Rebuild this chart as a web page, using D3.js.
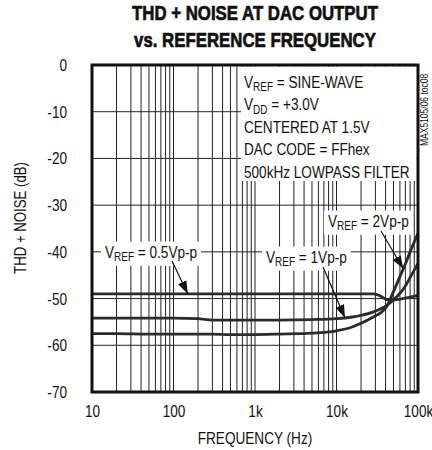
<!DOCTYPE html>
<html><head><meta charset="utf-8">
<script src="https://cdn.jsdelivr.net/npm/d3@7"></script>
<style>
html,body{margin:0;padding:0;background:#fff;}
svg{display:block;}
text{font-family:"Liberation Sans",Arial,sans-serif;fill:#111;}
</style></head><body>
<svg id="c" width="432" height="450"></svg>
<script>
const frequencies = [10, 20, 50, 100, 200, 300, 500, 1000, 2000, 5000, 10000, 15000, 20000, 28000, 35000, 41000, 50000, 60000, 70000, 80000, 90000, 100000];
const thdn2Vpp  = [-57.5, -57.5, -57.6, -57.6, -57.6, -57.6, -57.7, -57.7, -57.6, -57.4, -56.9, -56.2, -55.3, -54.0, -53.0, -51.8, -48.5, -45.3, -42.6, -40.0, -37.9, -36.0];
const thdn1Vpp  = [-54.2, -54.2, -54.2, -54.2, -54.3, -54.6, -54.6, -54.6, -54.6, -54.5, -54.3, -54.0, -53.6, -52.9, -52.2, -51.5, -50.3, -48.9, -47.3, -45.5, -43.9, -42.5];
const thdn05Vpp = [-49.0, -49.0, -49.0, -49.0, -49.0, -49.0, -49.0, -49.0, -49.0, -49.0, -49.0, -49.0, -49.0, -49.0, -49.5, -50.2, -50.3, -50.1, -49.9, -49.7, -49.5, -49.3];
const xTickValues = [10, 100, 1000, 10000, 100000];
const xTickLabels = ["10", "100", "1k", "10k", "100k"];
const yTickValues = [0, -10, -20, -30, -40, -50, -60, -70];
const yTickLabels = ["0", "-10", "-20", "-30", "-40", "-50", "-60", "-70"];
const titleLines = ["THD + NOISE AT DAC OUTPUT", "vs. REFERENCE FREQUENCY"];
const conditions = [["V","REF"," = SINE-WAVE"],["V","DD"," = +3.0V"],["CENTERED AT 1.5V"],["DAC CODE = FFhex"],["500kHz LOWPASS FILTER"]];

const SX = 0.8; // narrow-font emulation
const svg = d3.select("#c");
const L = 92, R = 418, T = 65, B = 392;
const x = d3.scaleLog().domain([10, 100000]).range([L, R]);
const y = d3.scaleLinear().domain([-70, 0]).range([B, T]);

function condense(sel, s){
  sel.each(function(){
    const el = d3.select(this);
    const ax = +el.attr("x") || 0;
    el.attr("transform", `translate(${ax},0) scale(${s},1) translate(${-ax},0)`);
  });
}

// grid
const minor = [];
for (let dec = 10; dec < 100000; dec *= 10) for (let k = 2; k <= 9; k++) minor.push(dec*k);
const gGrid = svg.append("g");
gGrid.selectAll("line.v").data(minor.concat([100,1000,10000])).join("line")
  .attr("x1", d=>x(d)).attr("x2", d=>x(d)).attr("y1", T).attr("y2", B)
  .attr("stroke","#222").attr("stroke-width",1);
gGrid.selectAll("line.h").data(yTickValues.slice(1,-1)).join("line")
  .attr("x1", L).attr("x2", R).attr("y1", d=>y(d)).attr("y2", d=>y(d))
  .attr("stroke","#222").attr("stroke-width",1);

// title
const tt = svg.append("g").selectAll("text").data(titleLines).join("text")
  .attr("x", 255).attr("y", (d,i)=>20 + i*27)
  .attr("text-anchor","middle").attr("font-size",20.5).attr("font-weight","bold")
  .attr("stroke","#111").attr("stroke-width",0.7)
  .text(d=>d);
condense(tt, 0.82);

// axes labels
const xAxis = d3.axisBottom(x).tickValues(xTickValues).tickFormat((d,i)=>xTickLabels[i]).tickSize(0).tickPadding(13);
const gx = svg.append("g").attr("transform",`translate(0,${B})`).call(xAxis);
gx.select(".domain").remove();
gx.selectAll("text").attr("font-size",17).attr("fill","#111").style("font-family",'"Liberation Sans",Arial,sans-serif');
condense(gx.selectAll("text"), SX);
const yAxis = d3.axisLeft(y).tickValues(yTickValues).tickFormat((d,i)=>yTickLabels[i]).tickSize(0).tickPadding(25);
const gy = svg.append("g").attr("transform",`translate(${L},0)`).call(yAxis);
gy.select(".domain").remove();
gy.selectAll("text").attr("font-size",17).attr("fill","#111").style("font-family",'"Liberation Sans",Arial,sans-serif');
condense(gy.selectAll("text"), SX);

condense(svg.append("text").attr("x",255).attr("y",444).attr("text-anchor","middle").attr("font-size",17).text("FREQUENCY (Hz)"), SX);
svg.append("text").attr("transform",`translate(26,218) rotate(-90) scale(${SX},1)`).attr("text-anchor","middle").attr("font-size",16.5).text("THD + NOISE (dB)");
svg.append("text").attr("transform","translate(428,146) rotate(-90) scale(0.85,1)").attr("font-size",10).text("MAX5105/06 toc08");

// conditions box
svg.append("rect").attr("x",241).attr("y",T+1.5).attr("width",R-1.5-241).attr("height",181-(T+1.5)).attr("fill","#fff");
conditions.forEach((parts,i)=>{
  const t = svg.append("text").attr("x",244).attr("y",88 + i*22.5).attr("font-size",17);
  t.append("tspan").text(parts[0]);
  if (parts.length === 3) {
    t.append("tspan").attr("font-size",12.5).attr("dy",3.5).text(parts[1]);
    t.append("tspan").attr("dy",-3.5).text(parts[2]);
  }
  condense(t, SX);
});

// curves
const series = [
  {name:"2Vp-p", v:thdn2Vpp},
  {name:"1Vp-p", v:thdn1Vpp},
  {name:"0.5Vp-p", v:thdn05Vpp}
];
const line = d3.line().x(d=>x(d[0])).y(d=>y(d[1])).curve(d3.curveMonotoneX);
svg.append("g").selectAll("path").data(series).join("path")
  .attr("d", s=>line(frequencies.map((f,i)=>[f, s.v[i]])))
  .attr("fill","none").attr("stroke","#2b2b2b").attr("stroke-width",2.8);

// series labels with arrows
function valAt(arr, f){
  const lf = Math.log10(f);
  for (let i=0;i<frequencies.length-1;i++){
    const a=Math.log10(frequencies[i]), b=Math.log10(frequencies[i+1]);
    if (lf>=a && lf<=b) return arr[i]+(arr[i+1]-arr[i])*(lf-a)/(b-a);
  }
  return arr[arr.length-1];
}
const labels = [
  {sub:"0.5Vp-p", tx:105, ty:258, arr:thdn05Vpp, f:150, ax:172, ay:261},
  {sub:"1Vp-p", tx:266, ty:263, arr:thdn1Vpp, f:12700, ax:323, ay:267},
  {sub:"2Vp-p", tx:328, ty:227, arr:thdn2Vpp, f:66000, ax:381, ay:231}
];
const defs = svg.append("defs");
defs.append("marker").attr("id","ah").attr("viewBox","0 0 10 10").attr("refX",10).attr("refY",5)
  .attr("markerWidth",13).attr("markerHeight",13).attr("markerUnits","userSpaceOnUse").attr("orient","auto")
  .append("path").attr("d","M0,1.5 L10,5 L0,8.5 Z").attr("fill","#111");
labels.forEach(l=>{
  const g = svg.append("g").attr("transform",`translate(${l.tx},0) scale(${SX},1) translate(${-l.tx},0)`);
  const bg = g.append("rect").attr("fill","#fff");
  const t = g.append("text").attr("x",l.tx).attr("y",l.ty).attr("font-size",17);
  t.append("tspan").text("V");
  t.append("tspan").attr("font-size",12.5).attr("dy",3.5).text("REF");
  t.append("tspan").attr("dy",-3.5).text(" = " + l.sub);
  const b = t.node().getBBox();
  bg.attr("x",b.x-4/SX).attr("y",b.y-1).attr("width",b.width+8/SX).attr("height",b.height+3);
  svg.append("line").attr("x1",l.ax).attr("y1",l.ay).attr("x2",x(l.f)).attr("y2",y(valAt(l.arr,l.f)))
    .attr("stroke","#111").attr("stroke-width",1.2).attr("marker-end","url(#ah)");
});

// frame
svg.append("rect").attr("x",L).attr("y",T).attr("width",R-L).attr("height",B-T)
  .attr("fill","none").attr("stroke","#111").attr("stroke-width",3);
</script></body></html>
